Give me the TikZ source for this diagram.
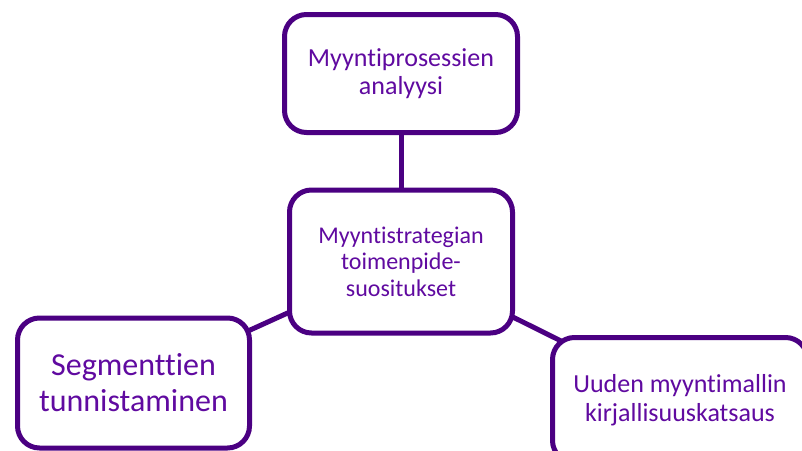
\documentclass[tikz,border=0pt]{standalone}
\usepackage{fontspec}
\setmainfont{Carlito}[RawFeature=-liga]
\usetikzlibrary{backgrounds}
\definecolor{boxline}{RGB}{75,0,130}
\definecolor{boxtext}{RGB}{96,10,160}
\tikzset{
  topic/.style={draw=boxline, line width=5pt, rounded corners=22pt, fill=white,
    text=boxtext, align=center, inner sep=0pt},
  link/.style={draw=boxline, line width=5pt}
}
\begin{document}
\begin{tikzpicture}[x=1pt, y=-1pt]
  \useasboundingbox (0,0) rectangle (802,450);
  \clip (0,0) rectangle (802,450);

  \node[topic, minimum width=233pt, minimum height=118pt,
        font=\fontsize{26}{28.6}\selectfont] (ana) at (401,73.5)
        {Myyntiprosessien\\analyysi};
  \node[topic, minimum width=223pt, minimum height=143pt,
        font=\fontsize{24}{26.4}\selectfont] (mid) at (401,261.5)
        {Myyntistrategian\\toimenpide-\\suositukset};
  \node[topic, minimum width=232pt, minimum height=130pt,
        font=\fontsize{32}{36}\selectfont] (seg) at (133.5,383)
        {Segmenttien\\tunnistaminen};
  \node[topic, minimum width=255pt, minimum height=125pt,
        font=\fontsize{26}{29}\selectfont] (kir) at (680,400)
        {Uuden myyntimallin\\kirjallisuuskatsaus};

  % connectors run centre to centre, hidden behind the filled boxes
  \begin{scope}[on background layer]
    \draw[link] (ana.center) -- (mid.center);
    \draw[link] (mid.center) -- (seg.center);
    \draw[link] (mid.center) -- (kir.center);
  \end{scope}
\end{tikzpicture}
\end{document}
